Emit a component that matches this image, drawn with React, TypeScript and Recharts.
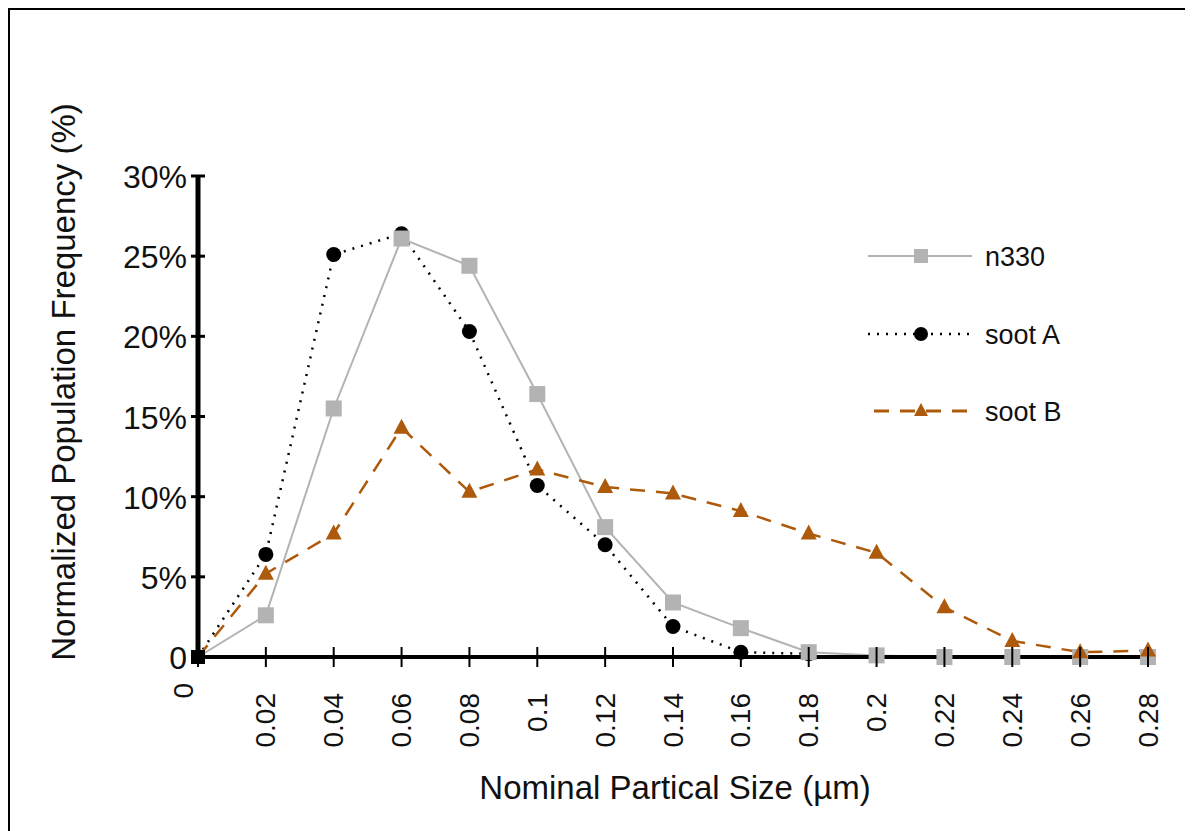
import React from "react";
import { LineChart, Line, XAxis, YAxis, Legend } from "recharts";

// particle size (µm) on x, normalized frequency (%) on y
const SIZES = [0, 0.02, 0.04, 0.06, 0.08, 0.1, 0.12, 0.14, 0.16, 0.18, 0.2, 0.22, 0.24, 0.26, 0.28];
const N330 = [0, 2.6, 15.5, 26.1, 24.4, 16.4, 8.1, 3.4, 1.8, 0.3, 0.1, 0, 0, 0, 0];
const SOOT_A = [0, 6.4, 25.1, 26.4, 20.3, 10.7, 7.0, 1.9, 0.3, 0.2, null, null, null, null, null];
const SOOT_B = [0, 5.2, 7.7, 14.3, 10.3, 11.7, 10.6, 10.2, 9.1, 7.7, 6.5, 3.1, 1.0, 0.3, 0.4];

const X_TICKS = [0, 0.02, 0.04, 0.06, 0.08, 0.1, 0.12, 0.14, 0.16, 0.18, 0.2, 0.22, 0.24, 0.26, 0.28];
const Y_TICKS = [0, 5, 10, 15, 20, 25, 30];

const GRAY = "#b3b3b3";
const BROWN = "#ad5a0c";
const FONT = "'Liberation Sans', Arial, Helvetica, sans-serif";

const W = 1183;
const H = 821;
const MARGIN = { top: 166, right: 45, left: 108, bottom: 0 };
const Y_AXIS_W = 80;
const X_AXIS_H = 174;

const data = SIZES.map((s, i) => ({
  size: s,
  n330: N330[i],
  sootA: SOOT_A[i],
  sootB: SOOT_B[i],
}));

function XTick(props: any) {
  const { x, y, payload } = props;
  const v = payload.value;
  const dx = v === 0 ? -15 : 0;
  const dy = v === 0 ? 26 : 36;
  return (
    <g>
      <line x1={x} x2={x} y1={y - 10} y2={y + 10} stroke="#000" strokeWidth={2} />
      <text
        transform={`translate(${x + dx}, ${y + dy}) rotate(-90)`}
        textAnchor="end"
        dominantBaseline="central"
        fontSize={28}
        fill="#111"
        fontFamily={FONT}
      >
        {String(v)}
      </text>
    </g>
  );
}

function YTick(props: any) {
  const { x, y, payload } = props;
  const v = payload.value;
  return (
    <g>
      <line x1={x - 7} x2={x + 7} y1={y} y2={y} stroke="#000" strokeWidth={3} />
      <text
        x={x - 11}
        y={y}
        dy="0.38em"
        textAnchor="end"
        fontSize={32}
        fill="#111"
        fontFamily={FONT}
      >
        {v === 0 ? "0" : `${v}%`}
      </text>
    </g>
  );
}

function SquareDot(props: any) {
  const { cx, cy, index } = props;
  if (cx == null || cy == null) return <g key={`sq-${index}`} />;
  const origin = index === 0;
  const s = origin ? 14 : 16;
  return (
    <rect
      key={`sq-${index}`}
      x={cx - s / 2}
      y={cy - s / 2}
      width={s}
      height={s}
      fill={origin ? "#000" : GRAY}
    />
  );
}

function CircleDot(props: any) {
  const { cx, cy, index } = props;
  if (cx == null || cy == null || index === 0) return <g key={`ci-${index}`} />;
  return <circle key={`ci-${index}`} cx={cx} cy={cy} r={7.5} fill="#000" />;
}

function TriDot(props: any) {
  const { cx, cy, index } = props;
  if (cx == null || cy == null || index === 0) return <g key={`tr-${index}`} />;
  return (
    <path
      key={`tr-${index}`}
      d={`M${cx},${cy - 9} L${cx + 8},${cy + 6} L${cx - 8},${cy + 6} Z`}
      fill={BROWN}
    />
  );
}

function LegendBox() {
  const rows = [
    { label: "n330", y: 26 },
    { label: "soot A", y: 104 },
    { label: "soot B", y: 181 },
  ];
  return (
    <svg width={320} height={210} style={{ display: "block" }}>
      {/* n330 */}
      <line x1={8} x2={112} y1={rows[0].y} y2={rows[0].y} stroke={GRAY} strokeWidth={2} />
      <rect x={54} y={rows[0].y - 7} width={14} height={14} fill={GRAY} />
      {/* soot A */}
      <line x1={8} x2={112} y1={rows[1].y} y2={rows[1].y} stroke="#000" strokeWidth={2.5} strokeDasharray="2 7" />
      <circle cx={61} cy={rows[1].y} r={7} fill="#000" />
      {/* soot B */}
      <line x1={14} x2={112} y1={rows[2].y} y2={rows[2].y} stroke={BROWN} strokeWidth={3} strokeDasharray="15 11" />
      <path d={`M61,${rows[2].y - 8} L68,${rows[2].y + 5} L54,${rows[2].y + 5} Z`} fill={BROWN} />
      {rows.map((r) => (
        <text
          key={r.label}
          x={125}
          y={r.y}
          dy="0.36em"
          fontSize={27}
          fill="#111"
          fontFamily={FONT}
        >
          {r.label}
        </text>
      ))}
    </svg>
  );
}

export default function App() {
  return (
    <div
      style={{
        position: "relative",
        width: W,
        height: H,
        borderTop: "2px solid #000",
        borderLeft: "2px solid #000",
        background: "#fff",
        fontFamily: FONT,
      }}
    >
      <LineChart width={W} height={H} data={data} margin={MARGIN}>
        <XAxis
          dataKey="size"
          type="number"
          domain={[0, 0.28]}
          ticks={X_TICKS}
          interval={0}
          height={X_AXIS_H}
          axisLine={{ stroke: "#000", strokeWidth: 4 }}
          tickLine={false}
          tickSize={0}
          tickMargin={0}
          tick={<XTick />}
          label={{
            content: () => (
              <text
                x={MARGIN.left + Y_AXIS_W + (W - MARGIN.left - Y_AXIS_W - MARGIN.right) / 2 + 2}
                y={789}
                textAnchor="middle"
                fontSize={33}
                fill="#111"
                fontFamily={FONT}
              >
                Nominal Partical Size (µm)
              </text>
            ),
          }}
        />
        <YAxis
          type="number"
          domain={[0, 30]}
          ticks={Y_TICKS}
          interval={0}
          width={Y_AXIS_W}
          axisLine={{ stroke: "#000", strokeWidth: 5 }}
          tickLine={false}
          tickSize={0}
          tickMargin={0}
          tick={<YTick />}
          label={{
            content: () => (
              <text
                transform={`translate(${MARGIN.left - 55}, 372) rotate(-90)`}
                textAnchor="middle"
                dominantBaseline="central"
                fontSize={33}
                fill="#111"
                fontFamily={FONT}
              >
                Normalized Population Frequency  (%)
              </text>
            ),
          }}
        />
        <Legend
          layout="vertical"
          align="center"
          verticalAlign="middle"
          content={() => <LegendBox />}
          wrapperStyle={{ left: 850, top: 220, width: 320, height: 210 }}
        />
        <Line
          dataKey="sootA"
          name="soot A"
          stroke="#000"
          strokeWidth={2.5}
          strokeDasharray="2 7"
          dot={CircleDot}
          activeDot={false}
          connectNulls={false}
          isAnimationActive={false}
        />
        <Line
          dataKey="n330"
          name="n330"
          stroke={GRAY}
          strokeWidth={2}
          dot={SquareDot}
          activeDot={false}
          isAnimationActive={false}
        />
        <Line
          dataKey="sootB"
          name="soot B"
          stroke={BROWN}
          strokeWidth={2.5}
          strokeDasharray="15 11"
          dot={TriDot}
          activeDot={false}
          isAnimationActive={false}
        />
      </LineChart>
    </div>
  );
}
